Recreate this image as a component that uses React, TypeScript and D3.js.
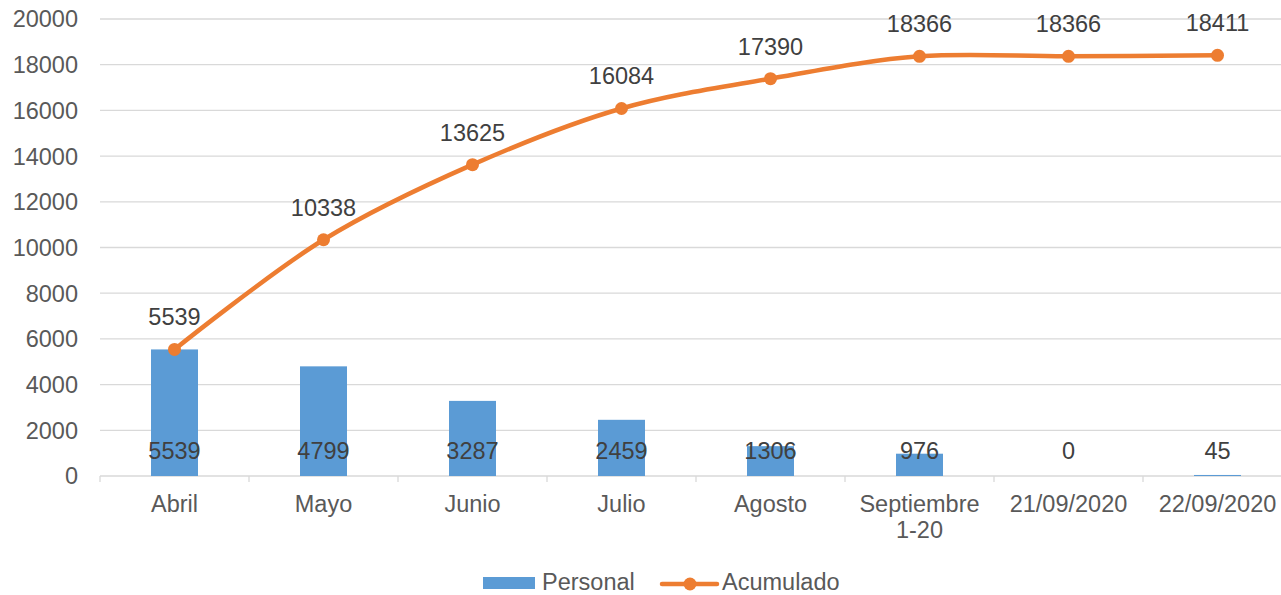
import React from "react";
import * as d3 from "d3";

const categories: string[][] = [
  ["Abril"],
  ["Mayo"],
  ["Junio"],
  ["Julio"],
  ["Agosto"],
  ["Septiembre", "1-20"],
  ["21/09/2020"],
  ["22/09/2020"],
];
const personal: number[] = [5539, 4799, 3287, 2459, 1306, 976, 0, 45];
const acumulado: number[] = [5539, 10338, 13625, 16084, 17390, 18366, 18366, 18411];
const yTicks: number[] = [0, 2000, 4000, 6000, 8000, 10000, 12000, 14000, 16000, 18000, 20000];

const W = 1281;
const H = 595;
const left = 100;
const bandW = 149;
const top = 19;
const bottom = 476;
const FONT = "'Liberation Sans', Arial, sans-serif";
const FS = 23.5;
const BLUE = "#5B9BD5";
const ORANGE = "#ED7D31";
const GRID = "#D9D9D9";
const TXT = "#595959";
const LBL = "#404040";

export default function App() {
  const idx = categories.map((_, i) => String(i));
  const x = d3
    .scaleBand<string>()
    .domain(idx)
    .range([left, left + bandW * categories.length])
    .paddingInner(0)
    .paddingOuter(0);
  const y = d3.scaleLinear().domain([0, 20000]).range([bottom, top]);
  const barW = 47;
  const cx = (i: number) => (x(String(i)) as number) + x.bandwidth() / 2;

  const line = d3
    .line<number>()
    .x((_, i) => cx(i))
    .y((d) => y(d))
    .curve(d3.curveCatmullRom.alpha(0.5));

  return (
    <svg
      width={W}
      height={H}
      style={{ position: "absolute", left: 0, top: 0, background: "#fff" }}
      fontFamily={FONT}
    >
      {yTicks.map((t) => (
        <line
          key={"g" + t}
          x1={left}
          x2={W}
          y1={y(t)}
          y2={y(t)}
          stroke={GRID}
          strokeWidth={1.3}
        />
      ))}
      {yTicks.map((t) => (
        <text
          key={"yl" + t}
          x={78}
          y={y(t)}
          dy="0.36em"
          textAnchor="end"
          fontSize={FS}
          fill={TXT}
        >
          {t}
        </text>
      ))}
      {categories.map((_, i) => (
        <line
          key={"xt" + i}
          x1={x(String(i)) as number}
          x2={x(String(i)) as number}
          y1={bottom}
          y2={bottom + 6}
          stroke={GRID}
          strokeWidth={1.3}
        />
      ))}
      {personal.map((v, i) => (
        <rect
          key={"b" + i}
          x={cx(i) - barW / 2}
          y={y(v)}
          width={barW}
          height={bottom - y(v)}
          fill={BLUE}
        />
      ))}
      {personal.map((v, i) => (
        <text
          key={"bl" + i}
          x={cx(i)}
          y={459}
          textAnchor="middle"
          fontSize={FS}
          fill={LBL}
        >
          {v}
        </text>
      ))}
      {categories.map((lines, i) =>
        lines.map((s, j) => (
          <text
            key={"cl" + i + "-" + j}
            x={cx(i)}
            y={512 + j * 26}
            textAnchor="middle"
            fontSize={FS}
            fill={TXT}
          >
            {s}
          </text>
        ))
      )}
      <path
        d={line(acumulado) || ""}
        fill="none"
        stroke={ORANGE}
        strokeWidth={4.5}
        strokeLinejoin="round"
        strokeLinecap="round"
      />
      {acumulado.map((v, i) => (
        <circle key={"m" + i} cx={cx(i)} cy={y(v)} r={6.5} fill={ORANGE} />
      ))}
      {acumulado.map((v, i) => (
        <text
          key={"ll" + i}
          x={cx(i)}
          y={y(v) - 24}
          textAnchor="middle"
          fontSize={FS}
          fill={LBL}
        >
          {v}
        </text>
      ))}
      <rect x={483} y={577} width={52} height={12} fill={BLUE} />
      <text x={542} y={590} fontSize={FS} fill={TXT}>
        Personal
      </text>
      <line x1={662} x2={717} y1={584} y2={584} stroke={ORANGE} strokeWidth={4.5} strokeLinecap="round" />
      <circle cx={690} cy={584} r={6.5} fill={ORANGE} />
      <text x={722} y={590} fontSize={FS} fill={TXT}>
        Acumulado
      </text>
    </svg>
  );
}
